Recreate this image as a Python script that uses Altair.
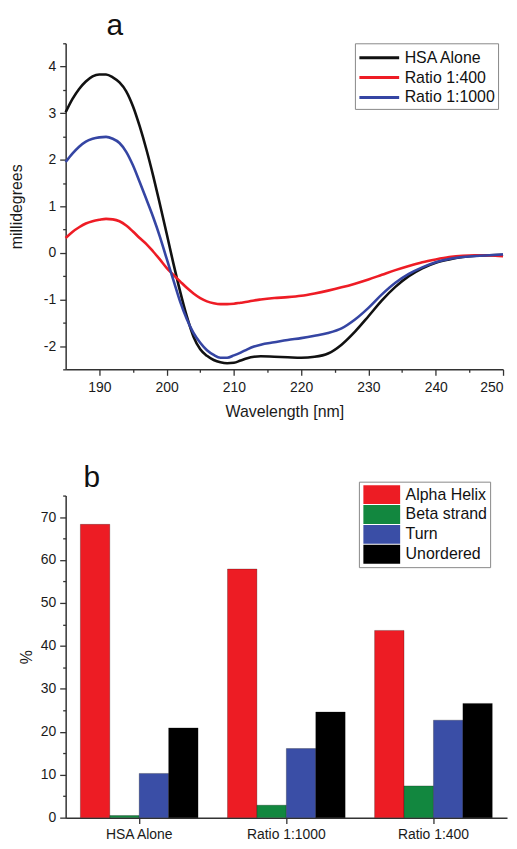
import altair as alt
import pandas as pd

FONT = "Liberation Sans"

# ---------- panel a: CD spectra ----------
wavelength = [185, 186, 187, 188, 189, 190, 191, 192, 193, 194, 195, 196, 197, 198, 199,
              200, 201, 202, 203, 204, 205, 206, 207, 208, 209, 210, 211, 212, 213, 214,
              216, 218, 220, 222, 224, 226, 228, 230, 232, 234, 236, 238, 240, 242, 244,
              246, 248, 250]
hsa_alone = [3.02, 3.30, 3.52, 3.68, 3.79, 3.83, 3.83, 3.77, 3.66, 3.47, 3.15, 2.72, 2.22, 1.66, 1.05,
             0.42, -0.22, -0.82, -1.36, -1.80, -2.07, -2.21, -2.30, -2.35, -2.37, -2.36, -2.31, -2.26, -2.23, -2.22,
             -2.23, -2.24, -2.25, -2.23, -2.16, -1.97, -1.69, -1.36, -1.02, -0.73, -0.50, -0.33, -0.21, -0.14, -0.09,
             -0.06, -0.05, -0.04]
ratio_400 = [0.32, 0.45, 0.55, 0.63, 0.68, 0.71, 0.73, 0.72, 0.68, 0.59, 0.46, 0.32, 0.19, 0.03, -0.14,
             -0.32, -0.47, -0.61, -0.75, -0.87, -0.97, -1.04, -1.08, -1.10, -1.10, -1.09, -1.07, -1.05, -1.02, -1.00,
             -0.97, -0.95, -0.92, -0.87, -0.81, -0.74, -0.66, -0.57, -0.47, -0.37, -0.28, -0.20, -0.14, -0.09, -0.06,
             -0.05, -0.055, -0.07]
ratio_1000 = [1.95, 2.13, 2.28, 2.39, 2.45, 2.48, 2.49, 2.45, 2.36, 2.17, 1.88, 1.52, 1.15, 0.77, 0.35,
              -0.12, -0.58, -1.04, -1.42, -1.72, -1.93, -2.09, -2.19, -2.25, -2.25, -2.20, -2.14, -2.07, -2.01, -1.97,
              -1.92, -1.87, -1.83, -1.78, -1.72, -1.62, -1.43, -1.18, -0.89, -0.64, -0.45, -0.31, -0.20, -0.13, -0.09,
              -0.065, -0.05, -0.035]
series_names = ["HSA Alone", "Ratio 1:400", "Ratio 1:1000"]
series_colors = ["#111111", "#EE1C25", "#3545A3"]

rows = []
for name, vals in zip(series_names, [hsa_alone, ratio_400, ratio_1000]):
    for w, v in zip(wavelength, vals):
        rows.append({"wavelength": w, "mdeg": v, "sample": name})
cd_df = pd.DataFrame(rows)

# ---------- panel b: secondary structure ----------
groups = ["HSA Alone", "Ratio 1:1000", "Ratio 1:400"]
structures = ["Alpha Helix", "Beta strand", "Turn", "Unordered"]
alpha_helix = [68.3, 57.9, 43.6]
beta_strand = [0.5, 2.9, 7.4]
turn = [10.3, 16.1, 22.7]
unordered = [20.9, 24.6, 26.6]
bar_colors = ["#ED1C24", "#12873F", "#3A4EA6", "#000000"]

brows = []
for s, vals in zip(structures, [alpha_helix, beta_strand, turn, unordered]):
    for g, v in zip(groups, vals):
        brows.append({"sample": g, "structure": s, "percent": v})
bar_df = pd.DataFrame(brows)

axis_common = dict(
    labelFont=FONT, titleFont=FONT, labelFontSize=14, titleFontSize=16,
    labelColor="#1a1a1a", titleColor="#1a1a1a", titleFontWeight="normal",
    domainColor="#333", tickColor="#333", domainWidth=1.5, tickWidth=1.3,
    grid=False,
)

yvals_a = [x / 2 for x in range(-5, 10)]
line = alt.Chart(cd_df).mark_line(strokeWidth=2.6, interpolate="monotone").encode(
    x=alt.X("wavelength:Q",
            scale=alt.Scale(domain=[185, 250], nice=False, zero=False),
            axis=alt.Axis(title="Wavelength [nm]", values=list(range(190, 251, 5)),
                          labelExpr="datum.value % 10 === 0 ? format(datum.value, 'd') : ''",
                          tickSize={"condition": {"test": "datum.value % 10 === 0", "value": 6}, "value": 3},
                          labelFlush=True,
                          labelPadding=5, titlePadding=9, **axis_common)),
    y=alt.Y("mdeg:Q",
            scale=alt.Scale(domain=[-2.5, 4.5], nice=False, zero=False),
            axis=alt.Axis(title="millidegrees", values=yvals_a,
                          labelExpr="datum.value % 1 === 0 ? replace(format(datum.value, 'd'), '\u2212', '-') : ''",
                          tickSize={"condition": {"test": "datum.value % 1 === 0", "value": 6}, "value": 3},
                          labelPadding=4, titlePadding=19, **axis_common)),
    color=alt.Color("sample:N", sort=series_names,
                    scale=alt.Scale(domain=series_names, range=series_colors),
                    legend=alt.Legend(title=None, orient="none", legendX=291, legendY=0,
                                      symbolType="M-2,0H2", symbolSize=400, symbolStrokeWidth=3,
                                      labelFont=FONT, labelFontSize=16, labelColor="#111",
                                      strokeColor="#888", padding=3, rowPadding=0,
                                      symbolOffset=10, labelOffset=14)),
    order=alt.Order("wavelength:Q"),
).properties(
    width=440, height=328,
    title=alt.Title("a", anchor="start", frame="group", dx=41, offset=2,
                    fontSize=30, fontWeight="normal", font=FONT, color="#111"),
)

bars = alt.Chart(bar_df).mark_bar(stroke="#000000", strokeOpacity=0.25, strokeWidth=1).encode(
    x=alt.X("sample:N", sort=groups,
            scale=alt.Scale(paddingInner=0.2, paddingOuter=0.1),
            axis=alt.Axis(title=None, labelAngle=0, tickSize=6, labelPadding=4, **axis_common)),
    xOffset=alt.XOffset("structure:N", sort=structures,
                        scale=alt.Scale(paddingInner=0, paddingOuter=0)),
    y=alt.Y("percent:Q",
            scale=alt.Scale(domain=[0, 75], nice=False),
            axis=alt.Axis(title="%", values=list(range(0, 76, 5)),
                          labelExpr="datum.value % 10 === 0 ? format(datum.value, 'd') : ''",
                          tickSize={"condition": {"test": "datum.value % 10 === 0", "value": 6}, "value": 3},
                          labelPadding=4, titlePadding=6, **axis_common)),
    color=alt.Color("structure:N", sort=structures,
                    scale=alt.Scale(domain=structures, range=bar_colors),
                    legend=alt.Legend(title=None, orient="none", legendX=295, legendY=-14,
                                      symbolType="M-1.85,-0.95H1.85V0.95H-1.85Z", symbolSize=400,
                                      symbolStrokeWidth=0, symbolOpacity=1,
                                      labelFont=FONT, labelFontSize=16, labelColor="#111",
                                      strokeColor="#888", padding=3, rowPadding=0,
                                      symbolOffset=10, labelOffset=14)),
).properties(
    width=444, height=324,
    title=alt.Title("b", anchor="start", frame="group", dx=18, dy=14, offset=2,
                    fontSize=30, fontWeight="normal", font=FONT, color="#111"),
)

chart = (
    alt.concat(line, bars, columns=1, spacing=44)
    .resolve_scale(color="independent")
    .properties(padding=0, align="none")
    .configure_view(stroke=None)
)

chart.save("out.html", embed_options={"renderer": "svg", "actions": False})
